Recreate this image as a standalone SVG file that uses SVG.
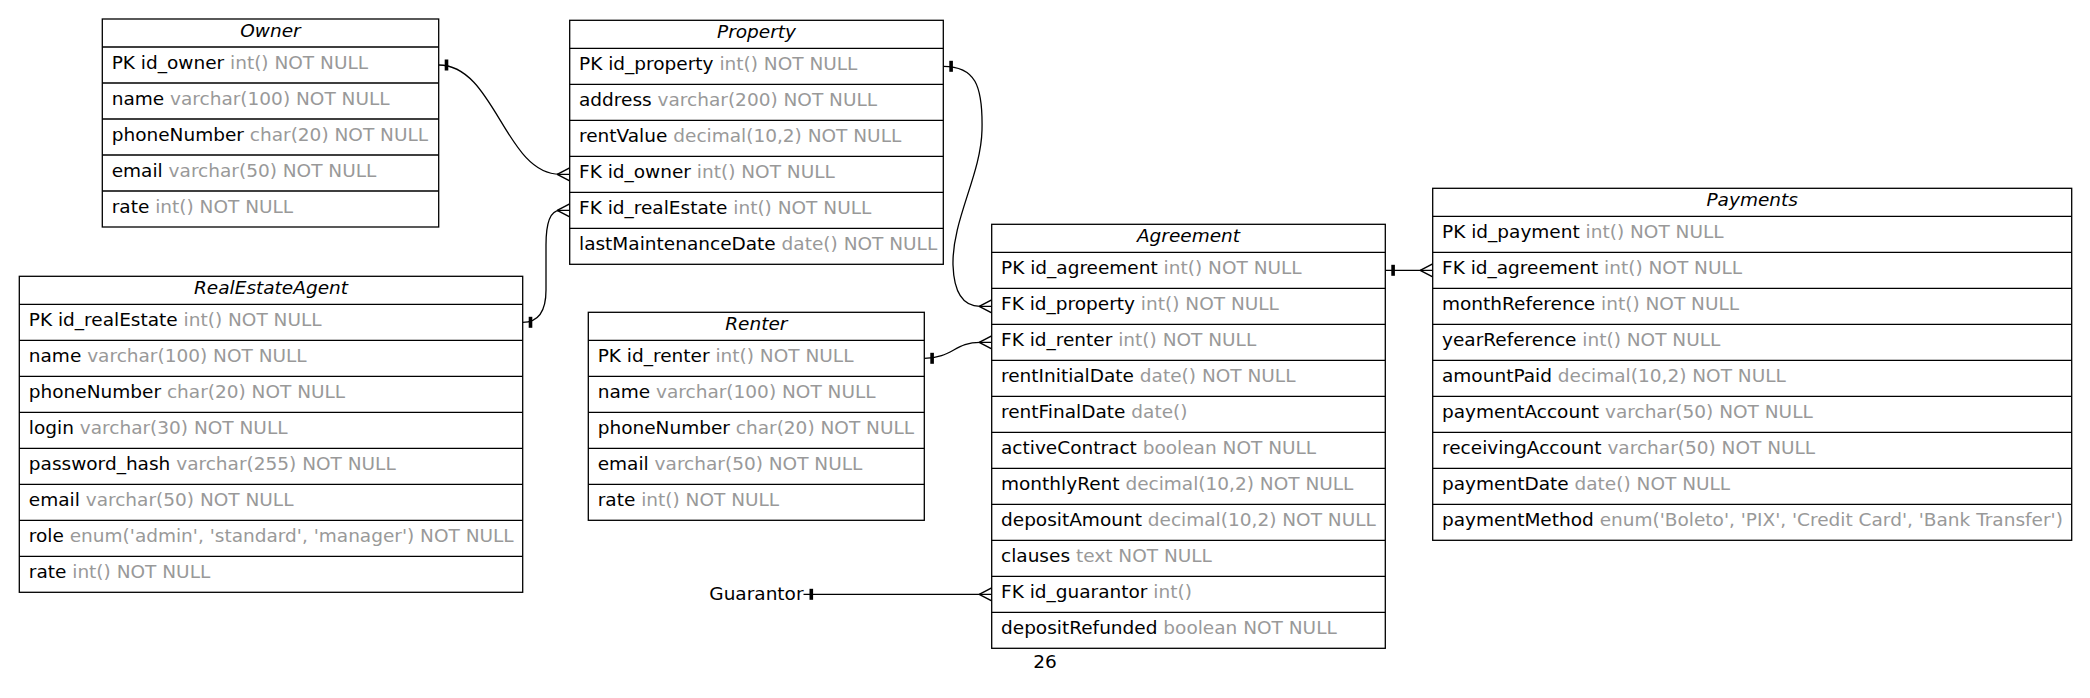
<svg xmlns="http://www.w3.org/2000/svg" width="2090" height="698" viewBox="0 0 2090 698">
<style>
.t{font-family:"DejaVu Sans","Liberation Sans",sans-serif;font-size:18.5px;fill:#000}
.h{font-style:italic;text-anchor:middle}
.g{fill:#999}
.frame{fill:#fff;stroke:#000;stroke-width:1.3}
.sep{stroke:#000;stroke-width:1.3}
.edge{fill:none;stroke:#000;stroke-width:1.3;marker-start:url(#tee);marker-end:url(#crow)}
</style>
<defs>
<marker id="tee" markerUnits="userSpaceOnUse" orient="auto" refX="0" refY="0" markerWidth="20" markerHeight="20" viewBox="-10 -10 20 20" overflow="visible"><rect x="6" y="-5.5" width="3.6" height="11" fill="#000"/></marker>
<marker id="crow" markerUnits="userSpaceOnUse" orient="auto" refX="0" refY="0" markerWidth="30" markerHeight="30" viewBox="-15 -15 30 30" overflow="visible"><path d="M-12.5,0 L0,-6.5 M-12.5,0 L0,6.5" fill="none" stroke="#000" stroke-width="1.5"/></marker>
</defs>
<rect width="2090" height="698" fill="#fff"/>

<g id="connectors">
<path class="edge" d="M438.7,65 C495,65 505,174.3 560,174.3 L569.7,174.3"/>
<path class="edge" d="M522.7,322.3 C541,322.3 546,308 546,290 L546,245 C546,222 550,210.3 560,210.3 L569.7,210.3"/>
<path class="edge" d="M943.3,66.3 C975,66.3 983,85 982,130 C981,175 952,220 953,265 C954,295 965,306.3 980,306.3 L991.7,306.3"/>
<path class="edge" d="M924.3,358.3 C952,358.3 955,342.3 980,342.3 L991.7,342.3"/>
<path class="edge" d="M1385.3,270.3 L1432.7,270.3"/>
<path class="edge" d="M803.5,594.3 L991.7,594.3"/>
</g>

<g id="Owner">
<rect class="frame" x="102.3" y="19" width="336.4" height="208"/>
<path class="sep" d="M102.3,47H438.7M102.3,83H438.7M102.3,119H438.7M102.3,155H438.7M102.3,191H438.7"/>
<text class="t h" x="270.5" y="36.5">Owner</text>
<text class="t" x="111.7" y="69">PK id_owner<tspan class="g"> int() NOT NULL</tspan></text>
<text class="t" x="111.7" y="105">name<tspan class="g"> varchar(100) NOT NULL</tspan></text>
<text class="t" x="111.7" y="141">phoneNumber<tspan class="g"> char(20) NOT NULL</tspan></text>
<text class="t" x="111.7" y="177">email<tspan class="g"> varchar(50) NOT NULL</tspan></text>
<text class="t" x="111.7" y="213">rate<tspan class="g"> int() NOT NULL</tspan></text>
</g>

<g id="Property">
<rect class="frame" x="569.7" y="20.3" width="373.6" height="244"/>
<path class="sep" d="M569.7,48.3H943.3M569.7,84.3H943.3M569.7,120.3H943.3M569.7,156.3H943.3M569.7,192.3H943.3M569.7,228.3H943.3"/>
<text class="t h" x="756.5" y="37.8">Property</text>
<text class="t" x="579" y="70.3">PK id_property<tspan class="g"> int() NOT NULL</tspan></text>
<text class="t" x="579" y="106.3">address<tspan class="g"> varchar(200) NOT NULL</tspan></text>
<text class="t" x="579" y="142.3">rentValue<tspan class="g"> decimal(10,2) NOT NULL</tspan></text>
<text class="t" x="579" y="178.3">FK id_owner<tspan class="g"> int() NOT NULL</tspan></text>
<text class="t" x="579" y="214.3">FK id_realEstate<tspan class="g"> int() NOT NULL</tspan></text>
<text class="t" x="579" y="250.3">lastMaintenanceDate<tspan class="g"> date() NOT NULL</tspan></text>
</g>

<g id="RealEstateAgent">
<rect class="frame" x="19.3" y="276.3" width="503.4" height="316"/>
<path class="sep" d="M19.3,304.3H522.7M19.3,340.3H522.7M19.3,376.3H522.7M19.3,412.3H522.7M19.3,448.3H522.7M19.3,484.3H522.7M19.3,520.3H522.7M19.3,556.3H522.7"/>
<text class="t h" x="271" y="293.8">RealEstateAgent</text>
<text class="t" x="28.8" y="326.3">PK id_realEstate<tspan class="g"> int() NOT NULL</tspan></text>
<text class="t" x="28.8" y="362.3">name<tspan class="g"> varchar(100) NOT NULL</tspan></text>
<text class="t" x="28.8" y="398.3">phoneNumber<tspan class="g"> char(20) NOT NULL</tspan></text>
<text class="t" x="28.8" y="434.3">login<tspan class="g"> varchar(30) NOT NULL</tspan></text>
<text class="t" x="28.8" y="470.3">password_hash<tspan class="g"> varchar(255) NOT NULL</tspan></text>
<text class="t" x="28.8" y="506.3">email<tspan class="g"> varchar(50) NOT NULL</tspan></text>
<text class="t" x="28.8" y="542.3">role<tspan class="g"> enum('admin', 'standard', 'manager') NOT NULL</tspan></text>
<text class="t" x="28.8" y="578.3">rate<tspan class="g"> int() NOT NULL</tspan></text>
</g>

<g id="Renter">
<rect class="frame" x="588.3" y="312.3" width="336" height="208"/>
<path class="sep" d="M588.3,340.3H924.3M588.3,376.3H924.3M588.3,412.3H924.3M588.3,448.3H924.3M588.3,484.3H924.3"/>
<text class="t h" x="756.3" y="329.8">Renter</text>
<text class="t" x="597.7" y="362.3">PK id_renter<tspan class="g"> int() NOT NULL</tspan></text>
<text class="t" x="597.7" y="398.3">name<tspan class="g"> varchar(100) NOT NULL</tspan></text>
<text class="t" x="597.7" y="434.3">phoneNumber<tspan class="g"> char(20) NOT NULL</tspan></text>
<text class="t" x="597.7" y="470.3">email<tspan class="g"> varchar(50) NOT NULL</tspan></text>
<text class="t" x="597.7" y="506.3">rate<tspan class="g"> int() NOT NULL</tspan></text>
</g>

<g id="Agreement">
<rect class="frame" x="991.7" y="224.3" width="393.6" height="424"/>
<path class="sep" d="M991.7,252.3H1385.3M991.7,288.3H1385.3M991.7,324.3H1385.3M991.7,360.3H1385.3M991.7,396.3H1385.3M991.7,432.3H1385.3M991.7,468.3H1385.3M991.7,504.3H1385.3M991.7,540.3H1385.3M991.7,576.3H1385.3M991.7,612.3H1385.3"/>
<text class="t h" x="1188.5" y="241.8">Agreement</text>
<text class="t" x="1001" y="274.3">PK id_agreement<tspan class="g"> int() NOT NULL</tspan></text>
<text class="t" x="1001" y="310.3">FK id_property<tspan class="g"> int() NOT NULL</tspan></text>
<text class="t" x="1001" y="346.3">FK id_renter<tspan class="g"> int() NOT NULL</tspan></text>
<text class="t" x="1001" y="382.3">rentInitialDate<tspan class="g"> date() NOT NULL</tspan></text>
<text class="t" x="1001" y="418.3">rentFinalDate<tspan class="g"> date()</tspan></text>
<text class="t" x="1001" y="454.3">activeContract<tspan class="g"> boolean NOT NULL</tspan></text>
<text class="t" x="1001" y="490.3">monthlyRent<tspan class="g"> decimal(10,2) NOT NULL</tspan></text>
<text class="t" x="1001" y="526.3">depositAmount<tspan class="g"> decimal(10,2) NOT NULL</tspan></text>
<text class="t" x="1001" y="562.3">clauses<tspan class="g"> text NOT NULL</tspan></text>
<text class="t" x="1001" y="598.3">FK id_guarantor<tspan class="g"> int()</tspan></text>
<text class="t" x="1001" y="634.3">depositRefunded<tspan class="g"> boolean NOT NULL</tspan></text>
</g>

<g id="Payments">
<rect class="frame" x="1432.7" y="188.3" width="639" height="352"/>
<path class="sep" d="M1432.7,216.3H2071.7M1432.7,252.3H2071.7M1432.7,288.3H2071.7M1432.7,324.3H2071.7M1432.7,360.3H2071.7M1432.7,396.3H2071.7M1432.7,432.3H2071.7M1432.7,468.3H2071.7M1432.7,504.3H2071.7"/>
<text class="t h" x="1752.2" y="205.8">Payments</text>
<text class="t" x="1442" y="238.3">PK id_payment<tspan class="g"> int() NOT NULL</tspan></text>
<text class="t" x="1442" y="274.3">FK id_agreement<tspan class="g"> int() NOT NULL</tspan></text>
<text class="t" x="1442" y="310.3">monthReference<tspan class="g"> int() NOT NULL</tspan></text>
<text class="t" x="1442" y="346.3">yearReference<tspan class="g"> int() NOT NULL</tspan></text>
<text class="t" x="1442" y="382.3">amountPaid<tspan class="g"> decimal(10,2) NOT NULL</tspan></text>
<text class="t" x="1442" y="418.3">paymentAccount<tspan class="g"> varchar(50) NOT NULL</tspan></text>
<text class="t" x="1442" y="454.3">receivingAccount<tspan class="g"> varchar(50) NOT NULL</tspan></text>
<text class="t" x="1442" y="490.3">paymentDate<tspan class="g"> date() NOT NULL</tspan></text>
<text class="t" x="1442" y="526.3">paymentMethod<tspan class="g"> enum('Boleto', 'PIX', 'Credit Card', 'Bank Transfer')</tspan></text>
</g>

<g id="Guarantor">
<text class="t" x="709.3" y="600.3">Guarantor</text>
</g>

<text class="t" x="1045" y="668" text-anchor="middle">26</text>
</svg>
